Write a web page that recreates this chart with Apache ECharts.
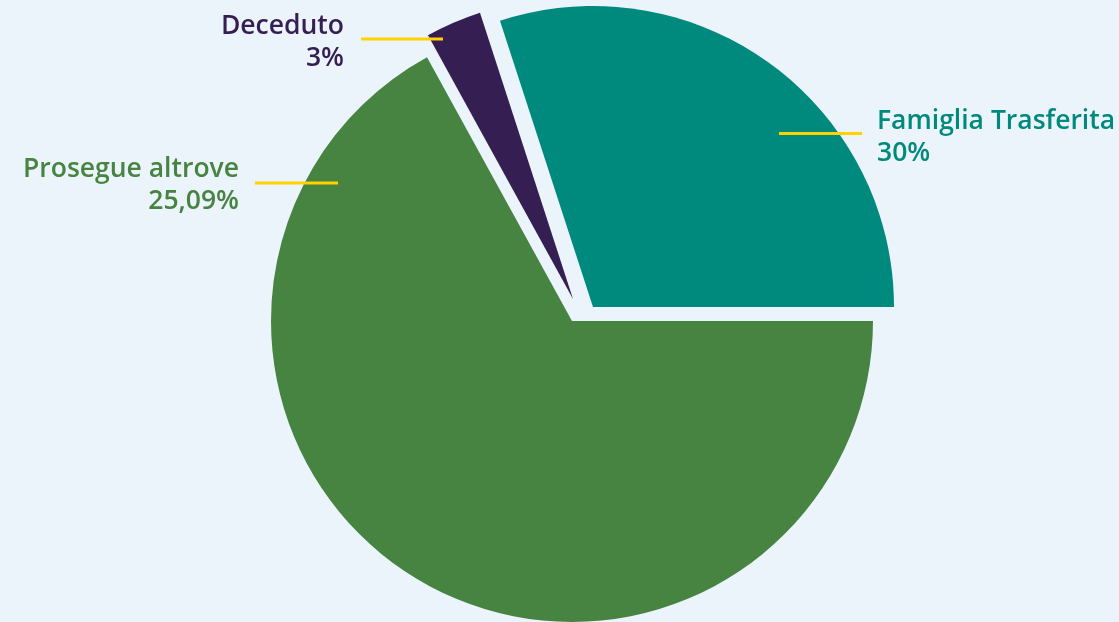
<!DOCTYPE html>
<html>
<head>
<meta charset="utf-8">
<title>Esiti</title>
<style>
  html, body { margin: 0; padding: 0; background: #ebf3fb; }
  #chart { width: 1119px; height: 622px; }
</style>
<script src="https://cdn.jsdelivr.net/npm/echarts@6/dist/echarts.min.js"></script>
</head>
<body>
<div id="chart"></div>
<script>
// data
const categories = ['Famiglia Trasferita', 'Prosegue altrove', 'Deceduto'];
const sliceValues = [30, 67, 3];
const percentLabels = ['30%', '25,09%', '3%'];
const colors = ['#00897d', '#478341', '#341e52'];

// layout: every slice is pushed apart by hand in the original, so each one gets its own centre
const centres = [[593, 307], [572, 321], [573, 299]];
const labelSpots = [
  { x: 877, y: 137, align: 'left',  line: [[779, 133.5], [820, 133.5], [862, 133.5]] },
  { x: 239, y: 185, align: 'right', line: [[255, 183], [296, 183], [338, 183]] },
  { x: 344, y: 42,  align: 'right', line: [[361, 39], [402, 39], [443, 39]] }
];

const chart = echarts.init(document.getElementById('chart'));

const pieBase = {
  type: 'pie',
  radius: 301,
  startAngle: 108,
  clockwise: true,
  silent: true,
  animation: false,
  avoidLabelOverlap: false,
  itemStyle: { borderWidth: 0 }
};

// one pie per slice, the other two slices left transparent
const slicePies = categories.map((_, s) => Object.assign({}, pieBase, {
  center: centres[s],
  z: 2,
  label: { show: false },
  labelLine: { show: false },
  data: categories.map((name, i) => ({
    name: name,
    value: sliceValues[i],
    itemStyle: { color: i === s ? colors[i] : 'rgba(0,0,0,0)' }
  }))
}));

// labels on top, so the yellow leader lines run over the slices
const labelPie = Object.assign({}, pieBase, {
  center: centres[1],
  z: 5,
  label: {
    show: true,
    position: 'outside',
    formatter: p => p.name + '\n' + percentLabels[p.dataIndex],
    fontFamily: 'Open Sans',
    fontWeight: 600,
    fontSize: 26.5,
    lineHeight: 32
  },
  labelLine: {
    show: true,
    lineStyle: { color: '#ffd200', width: 3 }
  },
  labelLayout: p => {
    const spot = labelSpots[p.dataIndex];
    return {
      x: spot.x,
      y: spot.y,
      align: spot.align,
      verticalAlign: 'middle',
      labelLinePoints: spot.line
    };
  },
  data: categories.map((name, i) => ({
    name: name,
    value: sliceValues[i],
    itemStyle: { color: 'rgba(0,0,0,0)' },
    label: { color: colors[i] }
  }))
});

chart.setOption({
  backgroundColor: '#ebf3fb',
  tooltip: { show: false },
  series: slicePies.concat([labelPie])
});
</script>
</body>
</html>
